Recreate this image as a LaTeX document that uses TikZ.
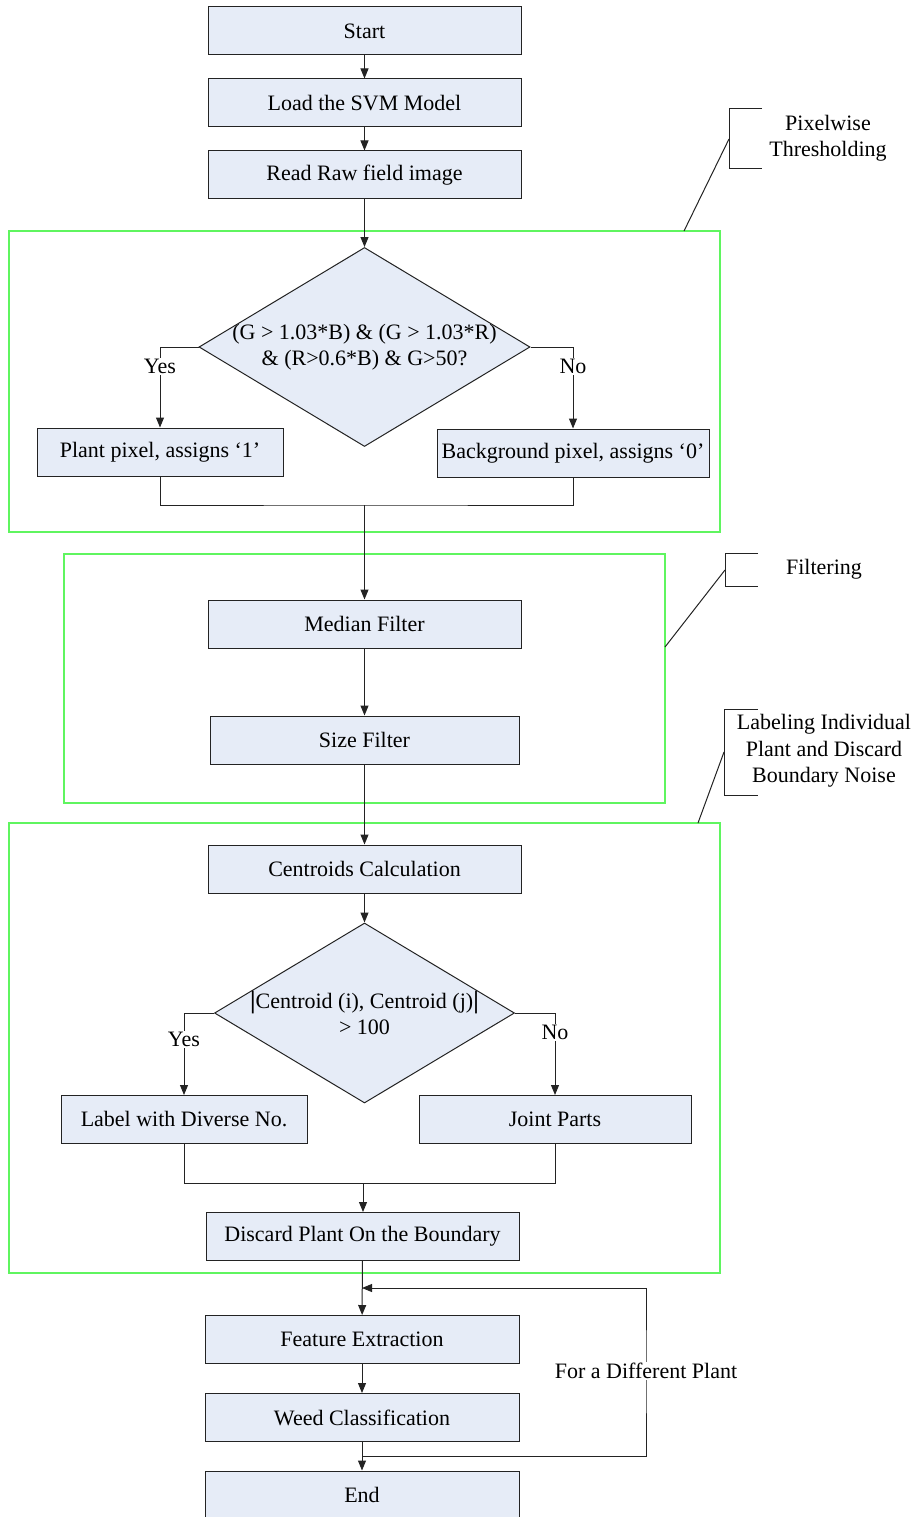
\documentclass[tikz,border=0pt]{standalone}
\usepackage{fontspec}
\setmainfont{Liberation Serif}
\usetikzlibrary{shapes.geometric,arrows.meta}
\definecolor{boxfill}{RGB}{230,236,247}
\definecolor{boxline}{RGB}{35,35,35}
\definecolor{grpgreen}{RGB}{95,245,95}

\begin{document}
\begin{tikzpicture}[x=1pt,y=-1pt,
    font=\fontsize{22}{26.5}\selectfont,
    box/.style={draw=boxline,line width=1pt,fill=boxfill,minimum height=48pt,inner sep=0pt},
    decision/.style={diamond,draw=boxline,line width=1pt,fill=boxfill,inner sep=0pt},
    flow/.style={-{Triangle[length=10pt,width=8pt]},line width=1pt,draw=boxline},
    link/.style={line width=1pt,draw=boxline},
    group/.style={draw=grpgreen,line width=1.3pt},
    tag/.style={fill=white,inner sep=1pt},
    note/.style={align=center}]
    \useasboundingbox (0,0) rectangle (917,1517);
    % green stage frames
    \draw[group] (9,231) rectangle (720,532);
    \draw[group] (64,554) rectangle (665,803);
    \draw[group] (9,823) rectangle (720,1273);
    % main column
    \node[box,minimum width=313pt] (start) at (364.5,31) {Start};
    \node[box,minimum width=313pt] (svm) at (364.5,103) {Load the SVM Model};
    \node[box,minimum width=313pt] (raw) at (364.5,175) {Read Raw field image};
    \node[decision,minimum width=331pt,minimum height=199pt] (thr) at (364.5,347) {};
    \node[note] (thrtext) at (thr) {(G > 1.03*B) \& (G > 1.03*R)\\\& (R>0.6*B) \& G>50?};
    \node[box,minimum width=246pt] (plant) at (160,452) {Plant pixel, assigns ‘1’};
    \node[box,minimum width=272pt] (bg) at (573,453) {Background pixel, assigns ‘0’};
    \coordinate (join1) at (364.5,505);
    \node[box,minimum width=313pt] (median) at (364.5,624) {Median Filter};
    \node[box,minimum width=309pt] (size) at (364.5,740) {Size Filter};
    \node[box,minimum width=313pt] (cent) at (364.5,869) {Centroids Calculation};
    \node[decision,minimum width=300pt,minimum height=180pt] (dist) at (364.5,1013) {};
    \node[note] (disttext) at (dist) {{\fontsize{25}{26}\selectfont\bfseries|}Centroid (i), Centroid (j){\fontsize{25}{26}\selectfont\bfseries|}\\> 100};
    \node[box,minimum width=246pt] (lab) at (184,1119.5) {Label with Diverse No.};
    \node[box,minimum width=272pt] (joint) at (555,1119.5) {Joint Parts};
    \coordinate (join2) at (363,1183);
    \node[box,minimum width=313pt] (bound) at (362.5,1236.5) {Discard Plant On the Boundary};
    \node[box,minimum width=314pt] (feat) at (362,1339.5) {Feature Extraction};
    \node[box,minimum width=314pt] (weed) at (362,1417.5) {Weed Classification};
    \node[box,minimum width=314pt] (end) at (362,1495) {End};
    % connectors
    \draw[flow] (start) -- (svm);
    \draw[flow] (svm) -- (raw);
    \draw[flow] (raw) -- (thr.north);
    \draw[flow] (thr.west) -| node[tag,pos=0.62] {Yes} (plant.north);
    \draw[flow] (thr.east) -| node[tag,pos=0.62] {No} (bg.north);
    \draw[link] (plant.south) |- (join1) -| (bg.south);
    \draw[flow] (join1) -- (median);
    \draw[flow] (median) -- (size);
    \draw[flow] (size) -- (cent);
    \draw[flow] (cent) -- (dist.north);
    \draw[flow] (dist.west) -| node[tag,pos=0.66] {Yes} (lab.north);
    \draw[flow] (dist.east) -| node[tag,pos=0.62] {No} (joint.north);
    \draw[link] (lab.south) |- (join2) -| (joint.south);
    \draw[flow] (join2) -- (join2 |- bound.north);
    \draw[flow] (bound) -- (feat);
    \draw[flow] (feat) -- (weed);
    \draw[flow] (weed) -- (end);
    % loop back
    \coordinate (loopin) at (362,1456);
    \coordinate (loopout) at (362,1288);
    \coordinate (loopside) at (646,1371);
    \draw[flow] (loopin) -| (loopside) |- (loopout);
    \node[tag] (loopnote) at (loopside) {For a Different Plant};
    % side notes
    \draw[link] (762,109) -- (729,109) -- (729,169) -- (762,169);
    \draw[link] (729,139) -- (684,231);
    \node[note] (pixnote) at (828,138) {Pixelwise\\Thresholding};
    \draw[link] (758,553) -- (725,553) -- (725,586) -- (758,586);
    \draw[link] (725,570) -- (665,647);
    \node (filtnote) at (824,569) {Filtering};
    \draw[link] (758,709) -- (724,709) -- (724,795) -- (758,795);
    \draw[link] (724,752) -- (698,823);
    \node[note] (labnote) at (824,751) {Labeling Individual\\Plant and Discard\\Boundary Noise};
\end{tikzpicture}
\end{document}
